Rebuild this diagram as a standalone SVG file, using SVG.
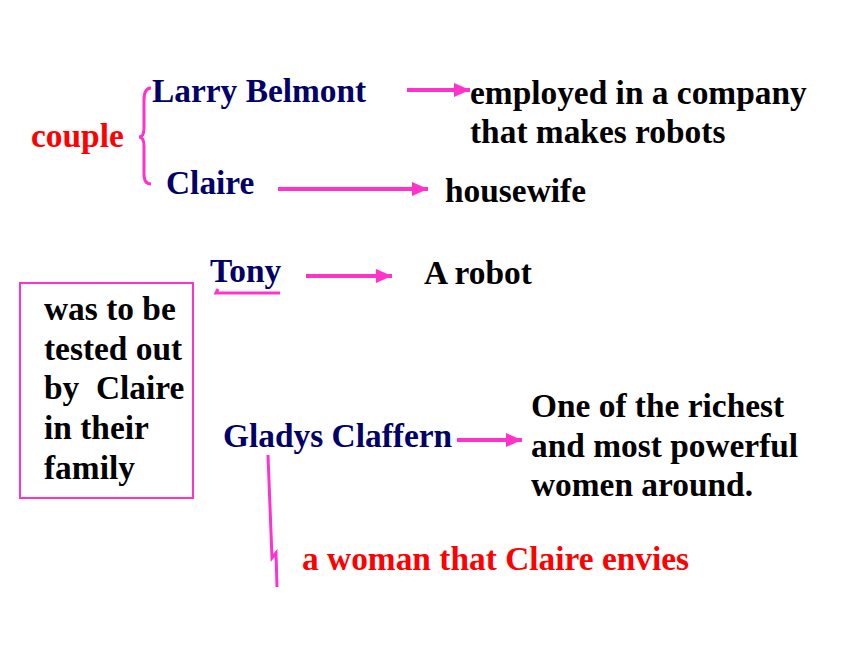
<svg xmlns="http://www.w3.org/2000/svg" width="860" height="645" viewBox="0 0 860 645">
<defs>
<style>
text{font-family:"Liberation Serif","Times New Roman",serif;font-weight:bold;font-size:33.4px}
.name{fill:#000066}
.desc{fill:#000000}
.red{fill:#ff0000}
.conn{stroke:#ff33cc;stroke-width:4;fill:none}
.thin{stroke:#ff33cc;stroke-width:3;fill:none}
</style>
<marker id="ah" viewBox="0 0 16 14" refX="16" refY="7" markerWidth="16" markerHeight="14" markerUnits="userSpaceOnUse" orient="auto">
<path d="M0,0 L16,7 L0,14 Z" fill="#ff33cc"/>
</marker>
</defs>
<rect width="860" height="645" fill="#ffffff"/>
<g id="connectors">
<path class="thin" d="M151,88 Q144,88 144,100 L144,128 Q144,137 139,137 Q144,137 144,146 L144,174 Q144,184 151,184"/>
<line class="conn" x1="407" y1="90" x2="470" y2="90" marker-end="url(#ah)"/>
<line class="conn" x1="278" y1="189" x2="428" y2="189" marker-end="url(#ah)"/>
<line class="conn" x1="306" y1="276" x2="392" y2="276" marker-end="url(#ah)"/>
<line class="conn" x1="457" y1="440" x2="522" y2="440" marker-end="url(#ah)"/>
<path class="thin" d="M218,289 L216,293 L280,293"/>
<path class="thin" d="M268,455 L272,558 L276,553 L277,587"/>
</g>
<g id="couple"><text class="red" x="31" y="147">couple</text></g>
<g id="larry"><text class="name" x="152" y="102">Larry Belmont</text></g>
<g id="larry-desc"><text class="desc" x="470" y="104">employed in a company</text><text class="desc" x="470" y="143">that makes robots</text></g>
<g id="claire"><text class="name" x="166" y="194">Claire</text></g>
<g id="claire-desc"><text class="desc" x="445" y="202">housewife</text></g>
<g id="tony"><text class="name" x="210" y="282">Tony</text></g>
<g id="tony-desc"><text class="desc" x="424" y="284">A robot</text></g>
<g id="tested-box">
<rect x="20" y="283" width="173" height="215" fill="none" stroke="#ff33cc" stroke-width="2"/>
<text class="desc" x="44" y="320">was to be</text>
<text class="desc" x="44" y="360">tested out</text>
<text class="desc" x="44" y="399" xml:space="preserve">by  Claire</text>
<text class="desc" x="44" y="439">in their</text>
<text class="desc" x="44" y="479">family</text>
</g>
<g id="gladys"><text class="name" x="223" y="447">Gladys Claffern</text></g>
<g id="gladys-desc">
<text class="desc" x="531" y="417">One of the richest</text>
<text class="desc" x="531" y="457">and most powerful</text>
<text class="desc" x="531" y="496">women around.</text>
</g>
<g id="envies"><text class="red" x="302" y="570">a woman that Claire envies</text></g>
</svg>
